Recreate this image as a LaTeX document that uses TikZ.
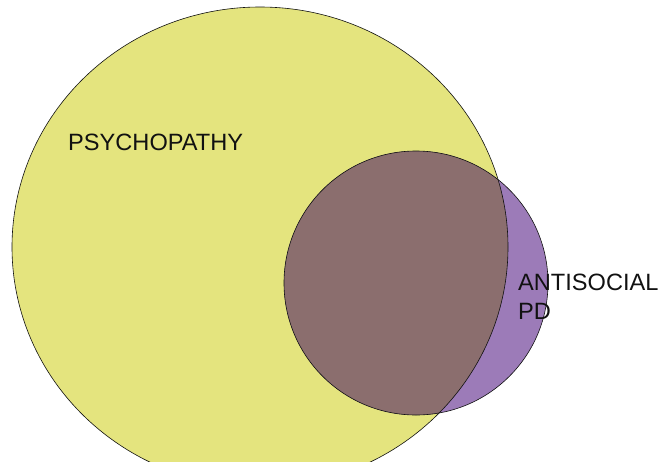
\documentclass[tikz,border=0pt]{standalone}
\usepackage{fontspec}
\setmainfont{Liberation Sans}
\usepackage{xcolor}
\usepackage{tikz}
\usetikzlibrary{positioning}
\definecolor{psyyellow}{HTML}{E4E47E}
\definecolor{aspdpurple}{HTML}{9C7BB8}
\definecolor{overlapbrown}{HTML}{8B6E6E}
\definecolor{ink}{HTML}{111111}
\tikzset{
    every picture/.style={line cap=round,line join=round},
    setoutline/.style={draw=ink,line width=0.6pt},
    setlabel/.style={font=\fontsize{23.6}{29}\selectfont,text=ink,
      inner sep=0pt,align=left,anchor=base west}
}
\begin{document}
\begin{tikzpicture}[x=1pt,y=-1pt]
  \useasboundingbox (0,0) rectangle (661,461);
  \clip (0,0) rectangle (661,461);
  % the two sets
  \fill[psyyellow] (260,247) ellipse (248 and 240);
  \fill[aspdpurple] (416,283) circle (132);
  \begin{scope}
    \clip (260,247) ellipse (248 and 240);
    \fill[overlapbrown] (416,283) circle (132);
  \end{scope}
  \draw[setoutline] (260,247) ellipse (248 and 240);
  \draw[setoutline] (416,283) circle (132);
  % labels (base = last line)
  \node[setlabel] (psy) at (68,150) {PSYCHOPATHY};
  \node[setlabel] (aspd) at (518,319) {ANTISOCIAL\\PD};
\end{tikzpicture}
\end{document}
